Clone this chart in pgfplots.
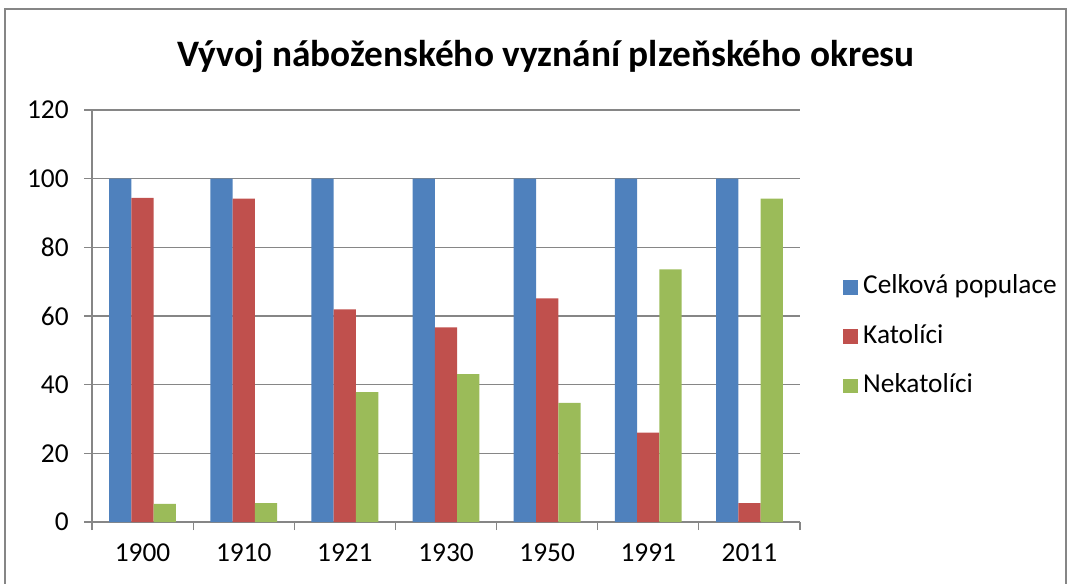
\documentclass[border=0pt]{standalone}
\usepackage{pgfplots}
\pgfplotsset{compat=1.18}
\usepackage{fontspec}
\setmainfont{Carlito}
\definecolor{cblue}{HTML}{4F81BD}
\definecolor{cred}{HTML}{C0504D}
\definecolor{cgreen}{HTML}{9BBB59}
\definecolor{cgrid}{HTML}{868686}
\pgfplotsset{sq/.style={legend image code/.code={\fill[##1] (0pt,-5.5pt) rectangle (11pt,5.5pt);}}}
\begin{document}
\begin{tikzpicture}[x=1pt,y=1pt]
\useasboundingbox (0,0) rectangle (804,437.25);
\draw[cgrid, line width=1pt] (3.75,-10) -- (3.75,430.5) -- (799.5,430.5) -- (799.5,-10);
\node[font=\fontsize{28}{32}\selectfont\bfseries] at (409.5,394.5) {Vývoj náboženského vyznání plzeňského okresu};
\begin{axis}[
  at={(69pt,45.75pt)}, anchor=south west, scale only axis,
  width=531pt, height=309pt,
  ybar=0pt, bar width=16.7pt,
  ymin=0, ymax=120, ytick={0,20,...,120},
  xmin=-0.5, xmax=6.5, xtick={0,...,6},
  xticklabels={1900,1910,1921,1930,1950,1991,2011},
  minor xtick={-0.5,0.5,...,6.5},
  axis x line*=bottom, axis y line*=left,
  axis line style={-, cgrid, line width=0.9pt},
  ymajorgrids, grid style={cgrid, line width=0.9pt},
  tick align=outside,
  major x tick style={draw=none},
  minor x tick style={cgrid, line width=0.9pt},
  ytick style={cgrid, line width=0.9pt},
  major tick length=6pt, minor tick length=6pt,
  xticklabel style={font=\fontsize{20.5}{24}\selectfont, yshift=-7pt},
  yticklabel style={font=\fontsize{20.5}{24}\selectfont, xshift=-8pt},
  /pgf/number format/assume math mode=true,
  legend style={at={(1.0607,0.4495)}, anchor=west, draw=none, fill=none,
    inner sep=0pt, font=\fontsize{20.5}{24}\selectfont, row sep=20.5pt,
    nodes={inner sep=0pt, inner xsep=4pt, text height=13pt, text depth=3.5pt}},
  legend cell align=left,
]
\addplot[fill=cblue, draw=none, sq] coordinates {(0,100) (1,100) (2,100) (3,100) (4,100) (5,100) (6,100)};
\addplot[fill=cred, draw=none, sq] coordinates {(0,94.4) (1,94.2) (2,61.9) (3,56.7) (4,65.1) (5,26.0) (6,5.5)};
\addplot[fill=cgreen, draw=none, sq] coordinates {(0,5.3) (1,5.5) (2,37.8) (3,43.1) (4,34.7) (5,73.6) (6,94.2)};
\legend{Celková populace, Katolíci, Nekatolíci}
\end{axis}
\end{tikzpicture}
\end{document}
